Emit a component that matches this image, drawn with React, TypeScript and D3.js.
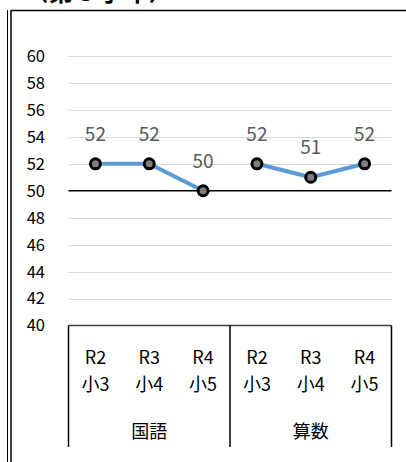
import React from "react";
import * as d3 from "d3";

const years = ["R2", "R3", "R4", "R2", "R3", "R4"];
const grades = ["小3", "小4", "小5", "小3", "小4", "小5"];
const subjects = ["国語", "算数"];
const kokugoValues = [52, 52, 50];
const sansuValues = [52, 51, 52];
const yTicks = [40, 42, 44, 46, 48, 50, 52, 54, 56, 58, 60];
const title = "〈第５学年〉";

const W = 406;
const H = 462;
const FONT = "'Noto Sans CJK JP', 'Noto Sans', sans-serif";

export default function App() {
  const idx = years.map((_, i) => i);
  const x = d3.scaleBand<number>().domain(idx).range([68.5, 391.5]).padding(0);
  const y = d3.scaleLinear().domain([40, 60]).range([325.5, 56]);
  const cx = (i: number) => (x(i) as number) + x.bandwidth() / 2;

  const series = [
    kokugoValues.map((v, j) => ({ i: j, v })),
    sansuValues.map((v, j) => ({ i: j + 3, v })),
  ];
  const line = d3
    .line<{ i: number; v: number }>()
    .x((d) => cx(d.i))
    .y((d) => y(d.v));

  const x0 = x.range()[0];
  const x1 = x.range()[1];
  const axisBottom = 447;

  return (
    <svg
      width={W}
      height={H}
      style={{ position: "absolute", left: 0, top: 0, background: "#fff" }}
      fontFamily={FONT}
    >
      <rect x={0} y={0} width={W} height={H} fill="#fff" />
      {/* title, cropped at the top edge as in the reference */}
      <text x={23.5} y={1} fontSize={25} fontWeight="bold" fill="#000">
        {title}
      </text>
      {/* frame */}
      <line x1={7.5} x2={7.5} y1={10} y2={H} stroke="#000" strokeWidth={1} />
      <line x1={11} x2={11} y1={10} y2={H} stroke="#000" strokeWidth={1.5} />
      <line x1={11} x2={W} y1={10.5} y2={10.5} stroke="#000" strokeWidth={1.5} />

      {/* gridlines */}
      {yTicks
        .filter((t) => t !== 40 && t !== 50)
        .map((t) => (
          <line
            key={t}
            x1={x0}
            x2={x1}
            y1={Math.round(y(t)) + 0.5}
            y2={Math.round(y(t)) + 0.5}
            stroke="#d9d9d9"
            strokeWidth={1}
          />
        ))}
      {/* 50 reference line */}
      <line x1={x0} x2={x1} y1={y(50)} y2={y(50)} stroke="#000" strokeWidth={1.5} />
      {/* y tick labels */}
      {yTicks.map((t) => (
        <text
          key={t}
          x={45}
          y={y(t)}
          dy="0.36em"
          textAnchor="end"
          fontSize={16.5}
          fill="#000"
        >
          {t}
        </text>
      ))}

      {/* category axis box */}
      <line x1={x0} x2={x1} y1={y(40)} y2={y(40)} stroke="#404040" strokeWidth={1.5} />
      {[0, 3, 6].map((k) => {
        const xx = k < 6 ? (x(k) as number) : x1;
        return (
          <line key={k} x1={xx} x2={xx} y1={y(40)} y2={axisBottom} stroke="#000" strokeWidth={1.5} />
        );
      })}
      {idx.map((i) => (
        <g key={i}>
          <text x={cx(i)} y={358} dy="0.36em" textAnchor="middle" fontSize={18} fill="#000">
            {years[i]}
          </text>
          <text x={cx(i)} y={385} dy="0.36em" textAnchor="middle" fontSize={18} fill="#000">
            {grades[i]}
          </text>
        </g>
      ))}
      {subjects.map((s, k) => (
        <text
          key={s}
          x={(cx(k * 3) + cx(k * 3 + 2)) / 2}
          y={432}
          dy="0.36em"
          textAnchor="middle"
          fontSize={18}
          fill="#000"
        >
          {s}
        </text>
      ))}

      {/* lines */}
      {series.map((s, k) => (
        <path
          key={k}
          d={line(s) || ""}
          fill="none"
          stroke="#5b9bd5"
          strokeWidth={4}
          strokeLinejoin="round"
          strokeLinecap="round"
        />
      ))}
      {/* markers & labels */}
      {series.flat().map((d) => (
        <g key={d.i}>
          <circle cx={cx(d.i)} cy={y(d.v)} r={5} fill="#7f7f7f" stroke="#000" strokeWidth={3} />
          <text
            x={cx(d.i)}
            y={y(d.v) - 30}
            dy="0.36em"
            textAnchor="middle"
            fontSize={19}
            fill="#595959"
          >
            {d.v}
          </text>
        </g>
      ))}
    </svg>
  );
}
